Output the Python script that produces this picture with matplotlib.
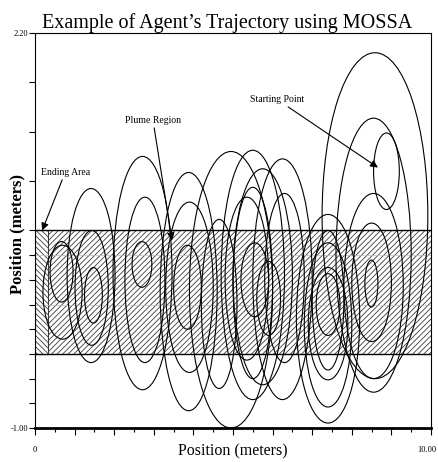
import matplotlib.pyplot as plt
from matplotlib.patches import Ellipse, Rectangle
from matplotlib.transforms import ScaledTranslation

plt.rcParams['font.family'] = ['Liberation Serif', 'DejaVu Serif']
plt.rcParams['hatch.linewidth'] = 0.6

# loops of the trajectory (meters): left, right, top, bottom
loop_left = [0.38, 0.20, 0.81, 1.01, 1.25, 1.97, 2.27, 2.45,
             3.16, 3.30, 3.50, 4.20, 3.90, 4.70, 5.00, 4.80, 5.00, 5.50, 5.80,
             5.20, 5.60, 6.60, 6.80, 6.90, 7.00, 7.10,
             7.25, 7.60, 8.55, 7.80, 8.00, 8.33]
loop_right = [0.96, 1.19, 2.02, 1.85, 1.70, 3.46, 3.28, 2.95,
              4.60, 4.50, 4.20, 5.10, 6.00, 6.30, 6.50, 5.90, 6.00, 7.00, 6.80,
              5.90, 6.20, 8.20, 8.00, 7.90, 7.80, 7.70,
              9.92, 9.50, 9.20, 9.30, 9.00, 8.66]
loop_top = [0.51, 0.48, 0.94, 0.60, 0.30, 1.20, 0.87, 0.51,
            1.07, 0.83, 0.48, 0.69, 1.24, 1.25, 1.10, 0.87, 0.95, 1.18, 0.90,
            0.50, 0.35, 0.73, 0.50, 0.30, 0.60, 0.25,
            2.04, 1.51, 1.39, 0.90, 0.66, 0.36]
loop_bottom = [0.02, -0.28, -0.47, -0.33, -0.15, -0.69, -0.47, 0.14,
               -0.86, -0.55, -0.20, -0.68, -1.00, -0.77, -0.65, -0.45, -0.60, -0.77, -0.47,
               -0.10, -0.25, -0.96, -0.83, -0.61, -0.53, -0.25,
               -0.60, -0.71, 0.77, -0.60, -0.30, -0.02]

plume_x = [0.0, 10.0]
plume_y = [-0.4, 0.6]
end_x = [0.0, 0.33]

fig = plt.figure(figsize=(4.38, 4.62), dpi=100)
ax = fig.add_axes([0.080, 0.0736, 0.904, 0.855])

ax.add_patch(Rectangle((plume_x[0], plume_y[0]), plume_x[1] - plume_x[0], plume_y[1] - plume_y[0],
                       facecolor='white', edgecolor='#3a3a3a', hatch='//////', lw=0, zorder=1))
ax.add_patch(Rectangle((end_x[0], plume_y[0]), end_x[1] - end_x[0], plume_y[1] - plume_y[0],
                       facecolor='white', edgecolor='#3a3a3a', hatch='\\\\\\\\\\\\', lw=0.8, zorder=1))
ax.hlines(plume_y, plume_x[0], plume_x[1], color='black', lw=1.0, zorder=3)
ax.hlines([0.4, 0.0], plume_x[0], plume_x[1], color='#bbbbbb', lw=0.5, zorder=1.5)

for l, r, t, b in zip(loop_left, loop_right, loop_top, loop_bottom):
    ax.add_patch(Ellipse(((l + r) / 2, (t + b) / 2), r - l, t - b,
                         fill=False, edgecolor='black', lw=0.8, zorder=2))

arrow = dict(arrowstyle='-|>', color='black', lw=0.8, mutation_scale=11, shrinkA=0, shrinkB=0)
ax.annotate('Starting Point', xy=(8.66, 1.11), xytext=(6.12, 1.66), fontsize=7,
            ha='center', va='center', arrowprops=arrow)
ax.annotate('Plume Region', xy=(3.46, 0.52), xytext=(2.98, 1.49), fontsize=7,
            ha='center', va='center', arrowprops=arrow)
ax.annotate('Ending Area', xy=(0.18, 0.60), xytext=(0.76, 1.07), fontsize=7,
            ha='center', va='center', arrowprops=arrow)

ax.set_xlim(0, 10)
ax.set_ylim(-1.0, 2.2)
ax.set_xticks(range(11))
ax.set_xticklabels(['0'] + [''] * 9 + ['10.00'], fontsize=6)
ax.set_xticks([i + 0.5 for i in range(10)], minor=True)
ax.set_yticks([2.2, 1.8, 1.4, 1.0, 0.6, 0.4, 0.2, 0.0, -0.2, -0.4, -0.6, -0.8, -1.0])
ax.set_yticklabels(['2.20'] + [''] * 11 + ['-1.00'], fontsize=6)
ax.tick_params(axis='x', which='major', length=5, width=0.8, pad=8)
ax.tick_params(axis='x', which='minor', length=3, width=0.8)
ax.tick_params(axis='y', length=4, width=0.8, pad=1)
# keep the last x label inside the figure
last = ax.get_xticklabels()[-1]
last.set_transform(last.get_transform() + ScaledTranslation(-0.04, 0, fig.dpi_scale_trans))
ax.spines['bottom'].set_linewidth(2)
for s in ['left', 'top', 'right']:
    ax.spines[s].set_linewidth(0.8)

ax.set_title("Example of Agent\u2019s Trajectory using MOSSA", fontsize=14.5, pad=3, x=0.485)
ax.set_xlabel('Position (meters)', fontsize=11.5, va='center')
ax.xaxis.set_label_coords(0.5, -0.058)
ax.set_ylabel('Position (meters)', fontsize=12, fontweight='bold', va='center')
ax.yaxis.set_label_coords(-0.045, 0.49)

fig.savefig('out.png', dpi=100)
